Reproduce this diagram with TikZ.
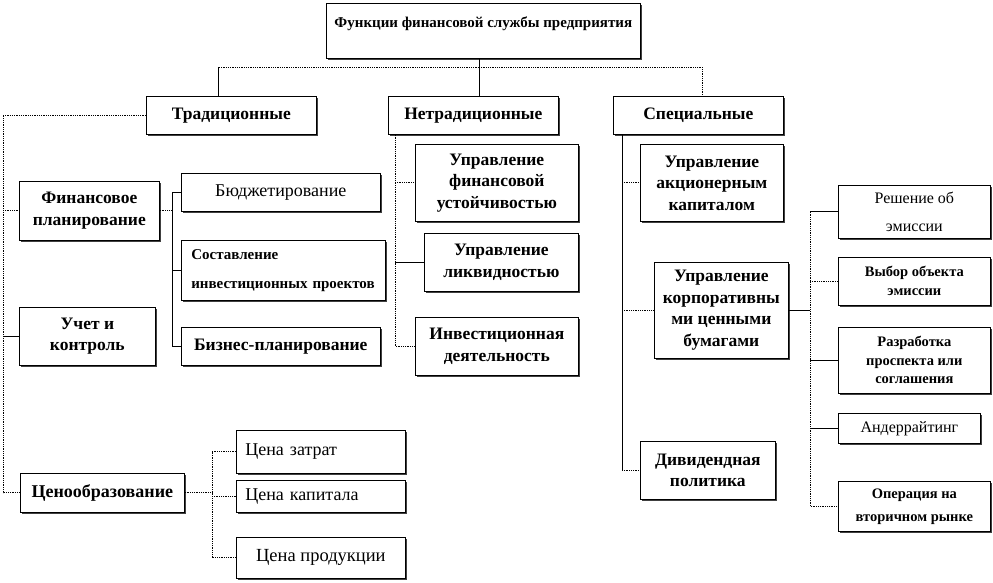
\documentclass[tikz,border=0pt]{standalone}
\usepackage{fontspec}
\setmainfont{Liberation Serif}
\usepackage{tikz}
\usetikzlibrary{shadows}
\tikzstyle{box} = [draw=black, line width=0.7pt, fill=white, anchor=north west, align=center, inner sep=2pt, drop shadow={shadow xshift=1.3pt, shadow yshift=-1.3pt, fill=black!75, opacity=1}]
\tikzstyle{solidline} = [line width=0.8pt]
\tikzstyle{dotline} = [line width=0.8pt, densely dotted]
\tikzstyle{bigbold} = [font=\fontsize{17.5}{21.5}\selectfont\bfseries]
\tikzstyle{smallbold} = [font=\fontsize{14.5}{19}\selectfont\bfseries]
\tikzstyle{plain} = [font=\fontsize{18}{21}\selectfont]

\begin{document}
\begin{tikzpicture}[x=1pt, y=-1pt]
    \useasboundingbox (0,0) rectangle (993,582);
    % head and first level
    \node[box, font=\fontsize{15}{18}\selectfont\bfseries, minimum width=314pt, minimum height=55pt] (head) at (326,3) {Функции финансовой службы предприятия\\\mbox{}};
    \node[box, bigbold, minimum width=170pt, minimum height=38pt] (trad) at (146,96) {Традиционные};
    \node[box, bigbold, minimum width=170pt, minimum height=38pt] (nontrad) at (388,96) {Нетрадиционные};
    \node[box, bigbold, minimum width=170pt, minimum height=38pt] (spec) at (613,96) {Специальные};

    % traditional
    \node[box, bigbold, minimum width=140pt, minimum height=59pt] (finplan) at (19,181) {Финансовое\\планирование};
    \node[box, bigbold, minimum width=136pt, minimum height=58pt] (account) at (19,307) {Учет и\\контроль};
    \node[box, font=\fontsize{18}{21}\selectfont\bfseries, minimum width=164pt, minimum height=39pt] (pricing) at (20,473) {Ценообразование};
    \node[box, plain, minimum width=199pt, minimum height=38pt] (budget) at (181,173) {Бюджетирование};
    \node[box, font=\fontsize{15}{29}\selectfont\bfseries, align=left, text width=184pt, inner xsep=10pt, inner ysep=4pt, minimum height=60pt] (invproj) at (181,240) {Составление\\инвестиционных проектов};
    \node[box, bigbold, minimum width=199pt, minimum height=38pt] (bizplan) at (181,327) {Бизнес-планирование};
    \node[box, plain, align=left, text width=151pt, inner xsep=9pt, minimum height=43pt] (cost) at (236,430) {Цена затрат};
    \node[box, plain, align=left, text width=151pt, inner xsep=9pt, minimum height=32pt] (capital) at (236,480) {Цена капитала};
    \node[box, plain, font=\fontsize{18.5}{21}\selectfont, minimum width=169pt, minimum height=41pt] (product) at (236,537) {Цена продукции};

    % non-traditional
    \node[box, bigbold, minimum width=163pt, minimum height=77pt] (stab) at (415,144) {Управление\\финансовой\\устойчивостью};
    \node[box, bigbold, minimum width=154pt, minimum height=58pt] (liq) at (424,233) {Управление\\ликвидностью};
    \node[box, bigbold, minimum width=163pt, minimum height=58pt] (invest) at (415,317) {Инвестиционная\\деятельность};

    % special
    \node[box, bigbold, minimum width=143pt, minimum height=77pt] (equity) at (640,144) {Управление\\акционерным\\капиталом};
    \node[box, bigbold, minimum width=134pt, minimum height=96pt] (corp) at (654,262) {Управление\\корпоративны\\ми ценными\\бумагами};
    \node[box, bigbold, minimum width=135pt, minimum height=58pt] (divid) at (640,441) {Дивидендная\\политика};

    % securities
    \node[box, font=\fontsize{16}{28}\selectfont, minimum width=152pt, minimum height=53pt] (emis) at (838,185) {Решение об\\эмиссии};
    \node[box, smallbold, minimum width=152pt, minimum height=48pt] (choice) at (838,257) {Выбор объекта\\эмиссии};
    \node[box, font=\fontsize{14.5}{18.5}\selectfont\bfseries, minimum width=152pt, minimum height=66pt] (prosp) at (838,327) {Разработка\\проспекта или\\соглашения};
    \node[box, font=\fontsize{16}{18}\selectfont, minimum width=142pt, minimum height=30pt] (under) at (838,413) {Андеррайтинг};
    \node[box, font=\fontsize{14.5}{23}\selectfont\bfseries, minimum width=152pt, minimum height=50pt] (second) at (838,481) {Операция на\\вторичном рынке};

    % connectors from the head
    \coordinate (hub) at (479,67);
    \coordinate (tl) at (218,67);
    \coordinate (sl) at (702,67);
    \draw[solidline] (hub |- head.south) -- (hub |- nontrad.north);
    \draw[dotline] (hub) -- (tl);
    \draw[solidline] (tl) -- (tl |- trad.north);
    \draw[dotline] (hub) -- (sl) -- (sl |- spec.north);

    % traditional bus
    \coordinate (lb) at (3,0);
    \draw[dotline] (trad.west) -- (lb |- trad.west) -- (lb |- pricing.west) -- (pricing.west);
    \draw[dotline] (lb |- finplan.west) -- (finplan.west);
    \draw[solidline] (lb |- account.west) -- (account.west);

    \coordinate (fb) at (172,0);
    \draw[dotline] (finplan.east) -- (fb |- finplan.east);
    \draw[solidline] (fb |- budget.west) -- (budget.west);
    \draw[solidline] (fb |- budget.west) -- (fb |- bizplan.west) -- (bizplan.west);
    \draw[solidline] (fb |- invproj.west) -- (invproj.west);

    \coordinate (pb) at (212,0);
    \draw[dotline] (pricing.east) -- (pb |- pricing.east);
    \draw[dotline] (cost.west) -- (pb |- cost.west) -- (pb |- product.west) -- (product.west);
    \draw[dotline] (pb |- capital.west) -- (capital.west);

    % non-traditional bus
    \coordinate (nb) at (395,0);
    \draw[dotline] (nb |- nontrad.south) -- (nb |- invest.west) -- (invest.west);
    \draw[dotline] (nb |- stab.west) -- (stab.west);
    \draw[solidline] (nb |- liq.west) -- (liq.west);

    % special bus
    \coordinate (sb) at (622,0);
    \draw[solidline] (sb |- spec.south) -- (sb |- divid.west);
    \draw[dotline] (sb |- divid.west) -- (divid.west);
    \draw[dotline] (sb |- equity.west) -- (equity.west);
    \draw[dotline] (sb |- corp.west) -- (corp.west);

    % securities bus
    \coordinate (cb) at (810,0);
    \draw[solidline] (corp.east) -- (cb |- corp.east);
    \draw[dotline] (cb |- emis.west) -- (cb |- second.west) -- (second.west);
    \draw[solidline] (cb |- emis.west) -- (emis.west);
    \draw[dotline] (cb |- choice.west) -- (choice.west);
    \draw[solidline] (cb |- prosp.west) -- (prosp.west);
    \draw[solidline] (cb |- under.west) -- (under.west);
\end{tikzpicture}
\end{document}
